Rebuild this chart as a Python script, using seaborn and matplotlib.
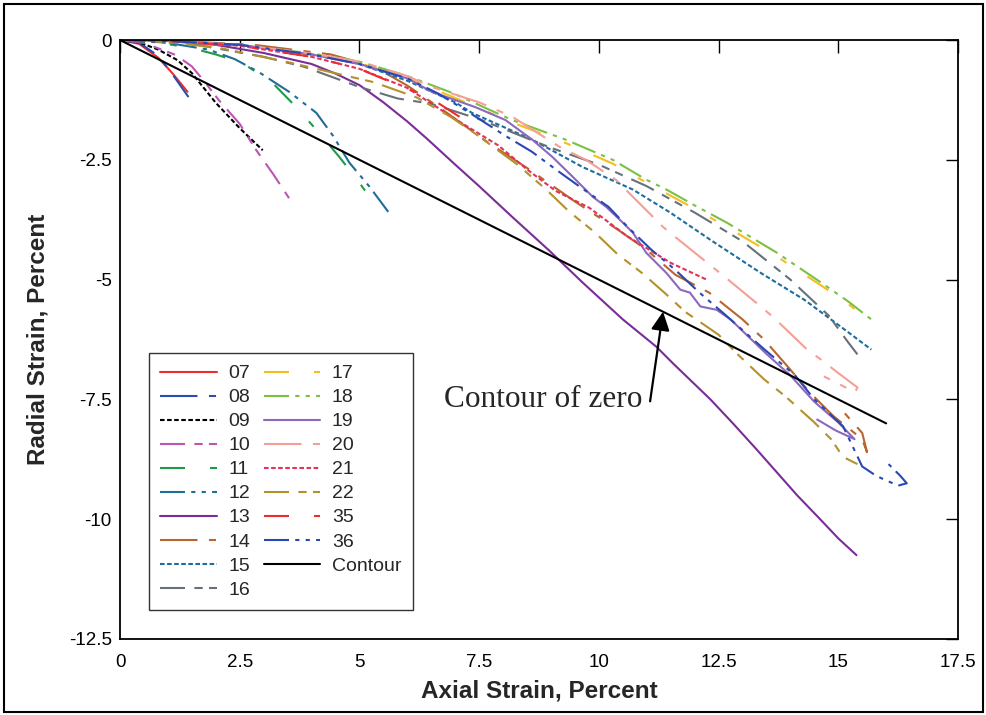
import matplotlib
matplotlib.use("Agg")
import matplotlib.pyplot as plt
from matplotlib import font_manager
from matplotlib.patches import Rectangle
import numpy as np
import pandas as pd
import seaborn as sns

# ---- test records: axial strain (%) vs radial strain (%) ----
x07 = [0, 0.4, 0.8, 1.1, 1.41]
y07 = [0, -0.08, -0.37, -0.7, -1.08]
x08 = [0, 0.4, 0.8, 1.1, 1.43]
y08 = [0, -0.06, -0.33, -0.72, -1.19]
x09 = [0, 0.4, 0.8, 1.2, 1.5, 2.0, 2.5, 2.98]
y09 = [0, -0.05, -0.2, -0.42, -0.69, -1.31, -1.84, -2.3]
x10 = [0, 0.5, 1.16, 1.5, 1.79, 2.06, 2.5, 2.84, 3.2, 3.53]
y10 = [0, -0.06, -0.31, -0.55, -0.9, -1.25, -1.75, -2.29, -2.8, -3.3]
x11 = [0, 0.8, 1.5, 2.0, 2.56, 3.19, 3.68, 4.16, 4.58, 5.0, 5.36]
y11 = [0, -0.05, -0.17, -0.3, -0.48, -0.9, -1.4, -1.94, -2.44, -2.98, -3.48]
x12 = [0, 1.0, 1.85, 2.4, 2.9, 3.53, 4.1, 4.45, 4.79, 5.21, 5.65]
y12 = [0, -0.06, -0.2, -0.4, -0.67, -1.08, -1.52, -2.0, -2.56, -3.06, -3.65]
x13 = [0, 1, 2, 3, 4, 4.5, 5, 5.5, 6.0, 6.4, 7.0, 7.5, 8.2, 8.97, 9.66,
       10.5, 11.2, 11.55, 12.33, 12.8, 13.3, 14.14, 14.64, 15.0, 15.38]
y13 = [0, -0.02, -0.1, -0.27, -0.5, -0.7, -0.94, -1.3, -1.7, -2.05, -2.6,
       -3.05, -3.7, -4.4, -5.06, -5.83, -6.4, -6.75, -7.5, -8.0, -8.55, -9.5,
       -10.02, -10.4, -10.75]
x14 = [0, 1, 2.8, 4.4, 5.3, 6.0, 6.8, 7.7, 8.5, 9.5, 10.4, 11.0, 11.6, 12.3,
       13.0, 13.45, 14.0, 14.4, 14.9, 15.5, 15.6, 15.5, 15.1]
y14 = [0, -0.01, -0.1, -0.3, -0.55, -0.95, -1.5, -2.15, -2.67, -3.37, -3.96,
       -4.38, -4.9, -5.27, -5.83, -6.25, -6.88, -7.35, -7.85, -8.33, -8.6,
       -8.2, -7.75]
x15 = [0, 1, 2.5, 4, 5, 6, 7, 7.35, 8.61, 9.66, 10.71, 11.49, 12.33, 13.38,
       14.29, 15.13, 15.69]
y15 = [0, -0.02, -0.1, -0.3, -0.5, -0.85, -1.3, -1.52, -2.08, -2.65, -3.12,
       -3.6, -4.17, -4.86, -5.42, -6.04, -6.46]
x16 = [0, 1.5, 3, 3.85, 5, 5.8, 6.5, 7.5, 9, 10, 11, 12, 13, 14, 14.8, 15.2,
       15.4]
y16 = [0, -0.08, -0.35, -0.56, -0.98, -1.22, -1.33, -1.65, -2.25, -2.6,
       -3.05, -3.6, -4.2, -5.0, -5.75, -6.3, -6.56]
x17 = [0, 1, 2.5, 4, 5, 6, 6.93, 8.19, 9.31, 10.29, 11.0, 11.41, 12.0, 12.67,
       13.72, 14.64, 15.2, 15.69]
y17 = [0, -0.02, -0.12, -0.3, -0.48, -0.8, -1.18, -1.72, -2.15, -2.58,
       -2.98, -3.2, -3.52, -3.9, -4.52, -5.12, -5.5, -5.9]
x18 = [0, 1, 2.5, 4, 5, 6, 6.93, 8.19, 9.31, 10.29, 11.0, 11.41, 12.0, 12.67,
       13.72, 14.64, 15.2, 15.69]
y18 = [0, -0.02, -0.1, -0.28, -0.45, -0.75, -1.1, -1.67, -2.08, -2.5, -2.92,
       -3.12, -3.45, -3.81, -4.44, -5.06, -5.45, -5.83]
x19 = [0, 1, 2.5, 4, 5, 6, 6.51, 7.42, 8.05, 8.61, 9.03, 9.45, 9.87, 10.15,
       10.5, 10.71, 10.99, 11.41, 11.7, 11.9, 12.12, 12.46, 12.75, 13.03,
       13.5, 14.0, 14.5, 15.0, 15.34, 14.95, 14.56]
y19 = [0, -0.02, -0.1, -0.3, -0.5, -0.8, -1.08, -1.4, -1.67, -2.08, -2.44,
       -2.85, -3.27, -3.48, -3.81, -4.02, -4.44, -4.86, -5.21, -5.27, -5.56,
       -5.63, -5.83, -6.1, -6.55, -7.0, -7.55, -7.98, -8.33, -8.15, -7.92]
x20 = [0, 1, 2.5, 4, 5, 6, 6.51, 7.5, 8.19, 9.18, 9.73, 10.36, 11.34, 11.62,
       12.39, 12.65, 13.38, 13.66, 14.35, 14.64, 15.0, 15.4, 15.35, 14.7]
y20 = [0, -0.02, -0.1, -0.28, -0.45, -0.75, -0.98, -1.3, -1.6, -2.23, -2.5,
       -2.92, -3.9, -4.13, -4.75, -4.96, -5.56, -5.8, -6.46, -6.67, -6.95,
       -7.25, -7.35, -7.02]
x21 = [0, 1, 2.5, 4, 5, 6, 7, 7.9, 8.5, 9.1, 9.8, 10.6, 11.5, 12.25]
y21 = [0, -0.02, -0.12, -0.35, -0.6, -1.0, -1.65, -2.2, -2.7, -3.15, -3.5,
       -4.1, -4.65, -5.0]
x22 = [0, 1, 2.1, 3.5, 5.3, 6.2, 6.9, 7.4, 8.3, 8.9, 9.4, 9.9, 10.4, 10.9,
       11.4, 11.8, 12.5, 12.9, 13.45, 13.9, 14.5, 14.85, 15.1, 15.4]
y22 = [0, -0.04, -0.17, -0.46, -0.88, -1.2, -1.6, -1.94, -2.6, -3.12, -3.6,
       -4.0, -4.48, -4.86, -5.3, -5.67, -6.15, -6.56, -7.08, -7.44, -7.98,
       -8.33, -8.7, -8.85]
x35 = [0, 1, 2.5, 4, 5, 5.9, 6.45, 6.87, 7.35]
y35 = [0, -0.02, -0.12, -0.35, -0.6, -0.98, -1.19, -1.46, -1.77]
x36 = [0, 1, 2.5, 4, 5, 6, 6.65, 7.35, 8.05, 8.6, 9.1, 9.6, 10.2, 10.6, 11.1,
       11.6, 12.1, 12.6, 13.45, 14.1, 14.5, 15.1, 15.5, 15.8, 16.25, 16.43,
       16.3, 16.05]
y36 = [0, -0.02, -0.1, -0.3, -0.5, -0.8, -1.12, -1.55, -2.0, -2.33, -2.7,
       -3.06, -3.48, -3.9, -4.38, -4.8, -5.27, -5.7, -6.45, -7.0, -7.5, -8.06,
       -8.9, -9.1, -9.3, -9.25, -9.1, -8.85]
x_contour = [0, 16]
y_contour = [0, -8]

tests = ["07", "08", "09", "10", "11", "12", "13", "14", "15", "16",
         "17", "18", "19", "20", "21", "22", "35", "36", "Contour"]
xs = [x07, x08, x09, x10, x11, x12, x13, x14, x15, x16,
      x17, x18, x19, x20, x21, x22, x35, x36, x_contour]
ys = [y07, y08, y09, y10, y11, y12, y13, y14, y15, y16,
      y17, y18, y19, y20, y21, y22, y35, y36, y_contour]

colors = ["#EE2B2E", "#2B4DAE", "#000000", "#BD55B4", "#1F9A48", "#1E6E96",
          "#7A2D96", "#B8652E", "#1C6FA0", "#66717B", "#F4BE1E", "#7AC143",
          "#8C68BE", "#F4A096", "#E4325A", "#B4912D", "#EE2B2E", "#2A48B4",
          "#000000"]

# dash patterns in linewidth units ("" = solid)
long_short = (18, 5.5, 3.4, 5.5)
long_gap = (12, 12, 3.4, 12)
dash_dash = (12, 4.5, 4, 3, 4, 4.5)
dash_dots = (12, 3, 2, 3, 2, 3)
dotted = (2.2, 1.2)
styles = ["", long_short, dotted, dash_dash, long_gap, dash_dots,
          "", long_short, dotted, dash_dash, long_gap, dash_dots,
          "", long_short, dotted, dash_dash, long_gap, dash_dots, ""]

frames = []
for t, xv, yv in zip(tests, xs, ys):
    frames.append(pd.DataFrame({"Axial": xv, "Radial": yv, "Test": t}))
df = pd.concat(frames, ignore_index=True)

sns.set_theme(style="white")
available = {f.name for f in font_manager.fontManager.ttflist}
narrow = "Liberation Sans Narrow" if "Liberation Sans Narrow" in available else "Liberation Sans"
plt.rcParams["font.family"] = ["Liberation Sans", "DejaVu Sans"]

fig = plt.figure(figsize=(9.87, 7.15), dpi=100)
ax = fig.add_axes([0.1216, 0.1063, 0.849, 0.8377])

sns.lineplot(data=df, x="Axial", y="Radial", hue="Test", style="Test",
             hue_order=tests, style_order=tests,
             palette=dict(zip(tests, colors)),
             dashes=dict(zip(tests, styles)),
             sort=False, estimator=None, linewidth=1.5, ax=ax)

ax.set_xlim(0, 17.5)
ax.set_ylim(-12.5, 0)
ax.set_xticks(np.arange(0, 17.6, 2.5))
ax.set_yticks(np.arange(-12.5, 0.1, 2.5))
ax.set_xticklabels(["0", "2.5", "5", "7.5", "10", "12.5", "15", "17.5"],
                   family=[narrow, "DejaVu Sans"], fontsize=13.5)
ax.set_yticklabels(["-12.5", "-10", "-7.5", "-5", "-2.5", "0"],
                   family=[narrow, "DejaVu Sans"], fontsize=13.5)
ax.tick_params(direction="in", length=9, width=1, top=True, right=True,
               color="black", labelcolor="black")
ax.tick_params(axis="x", pad=11)
ax.tick_params(axis="y", pad=6)
for sp in ax.spines.values():
    sp.set_color("black")
    sp.set_linewidth(1.3)

ax.set_xlabel("Axial Strain, Percent", fontsize=17.5, fontweight="bold",
              family=[narrow, "DejaVu Sans"], labelpad=6)
ax.set_ylabel("Radial Strain, Percent", fontsize=17.5, fontweight="bold",
              family=[narrow, "DejaVu Sans"], labelpad=14)

handles, labels = ax.get_legend_handles_labels()
leg = ax.legend(handles, labels, ncol=2, loc="lower left",
                bbox_to_anchor=(0.034, 0.048), fontsize=14,
                handlelength=2.9, handletextpad=0.6, columnspacing=0.7,
                labelspacing=0.33, borderpad=0.6, frameon=True, fancybox=False,
                borderaxespad=0)
leg.get_frame().set_edgecolor("black")
leg.get_frame().set_linewidth(1.0)

# label and pointer for the contour line
ax.annotate("", xy=(11.34, -5.67), xytext=(11.07, -7.54),
            arrowprops=dict(arrowstyle="-|>", color="black", lw=1.6,
                            mutation_scale=28, shrinkA=0, shrinkB=0))
ax.text(10.9, -7.5, "Contour of zero", ha="right", va="center",
        fontsize=22.5, family=["Liberation Serif", "DejaVu Serif"])

fig.patches.append(Rectangle((0.004, 0.004), 0.992, 0.99, fill=False,
                             edgecolor="black", linewidth=1.5,
                             transform=fig.transFigure))

fig.savefig("out.png", dpi=100)
